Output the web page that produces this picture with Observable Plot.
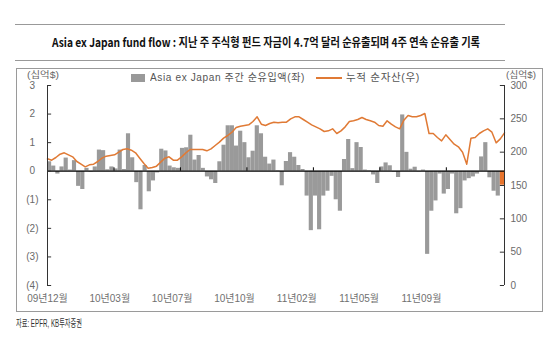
<!DOCTYPE html>
<html><head><meta charset="utf-8">
<script src="https://cdn.jsdelivr.net/npm/d3@7"></script>
<script src="https://cdn.jsdelivr.net/npm/@observablehq/plot@0.6"></script>
<style>
body{margin:0;background:#fff;}
#wrap{position:relative;width:550px;height:342px;overflow:hidden;font-family:"Liberation Sans","Noto Sans CJK KR",sans-serif;}
.abs{position:absolute;white-space:nowrap;line-height:14px;}
#chart{position:absolute;left:0;top:0;}
#box{position:absolute;left:16px;top:68px;width:527px;height:244px;border:1.5px solid #9a9a9a;box-sizing:border-box;}
</style></head><body>
<div id="wrap">
  <div class="abs" style="left:15px;top:24px;width:490px;border-top:1.5px solid #999;"></div>
  <div class="abs" style="left:15px;top:60px;width:490px;border-top:1.5px solid #999;"></div>
  <div id="box"></div>
  <div id="title" class="abs fit" data-w="428" style="left:52px;top:35px;font-family:'Noto Sans CJK KR',sans-serif;font-weight:700;font-size:12px;color:#111;">Asia ex Japan fund flow : 지난 주 주식형 펀드 자금이 4.7억 달러 순유출되며 4주 연속 순유출 기록</div>
  <div id="chart"></div>
  <div class="abs" style="left:131px;top:74px;width:14px;height:8px;background:#999;"></div>
  <div class="abs fit" data-w="155" style="left:150px;top:71px;font-size:10px;color:#555;letter-spacing:0.6px;">Asia ex Japan 주간 순유입액(좌)</div>
  <div class="abs" style="left:316px;top:77px;width:26px;height:2px;background:#E07A35;"></div>
  <div class="abs fit" data-w="74" style="left:346px;top:71px;font-size:10px;color:#555;letter-spacing:0.6px;">누적 순자산(우)</div>
  <div class="abs fit" data-w="32" style="left:27px;top:68px;font-size:9px;color:#666;">(십억$)</div>
  <div class="abs fit" data-w="30" style="left:506px;top:68px;font-size:9px;color:#666;">(십억$)</div>
  <div class="abs fit" data-w="66" style="left:16px;top:316px;font-size:10.5px;color:#333;">자료: EPFR, KB투자증권</div>
</div>
<script>
// weekly net flow (USD bn, left axis)
const flows = [
  0.33, 0.18, -0.1, 0.15, 0.46, 0.04, 0.37, -0.53, -0.64, 0.1,
  -0.03, 0.15, 0.74, 0.72, 0.05, 0.15, 0.08, 0.74, 0.06, 1.31,
  0.47, -0.4, -1.35, 0.2, -0.72, -0.34, -0.06, 0.77, 0.71, 0.18,
  0.12, 0.1, 0.8, 0.82, 1.26, 0.39, 0.55, 0.1, -0.2, -0.3,
  -0.43, 0.33, 0.91, 1.59, 1.59, 0.88, 1.4, 1.0, 0.47, 0.7,
  1.59, 1.31, 0.49, 0.25, 0.39, 0.02, -0.51, 0.34, 0.65, 0.49,
  0.2, 0.06, -0.87, -2.08, -0.87, -2.05, -0.87, -0.7, -0.18, -1.0,
  -1.4, 0.41, 1.11, 0.09, 1.0, 0.83, 0.04, 0.02, -0.13, -0.43,
  0.15, 0.29, 0.19, -0.03, -0.22, 1.97, 0.66, 0.07, 0.14, -0.02,
  0.04, -2.91, -1.4, -1.04, -0.1, -0.8, -0.64, -0.1, -1.49, -1.31,
  -0.34, -0.26, -0.2, -0.1, 0.5, 1.0, -0.23, -0.7, -0.87, -0.49
];
// cumulative net assets (USD bn, right axis)
const assets = [
  190, 188, 192, 197, 199, 196, 193, 186, 182, 178,
  181, 182, 186, 191, 194, 195, 196, 200, 204, 205,
  203, 199, 191, 183, 176, 177, 179, 185, 191, 193,
  188, 188, 193, 199, 204, 204, 204, 204, 202, 205,
  210, 215, 221, 225, 230, 237, 239, 240, 241, 246,
  253, 242, 240, 243, 245, 244, 245, 245, 250, 253,
  253, 249, 245, 241, 238, 235, 231, 232, 235, 228,
  232, 238, 246, 247, 249, 252, 249, 247, 245, 240,
  239, 247, 242, 238, 235, 248, 255, 253, 253, 255,
  258, 228, 228, 222, 217, 226, 219, 212, 208, 200,
  182, 221, 222, 228, 232, 235, 230, 214, 220, 229
];
const xTickIndex = [0, 15, 30, 45, 60, 75, 90];
const xTickLabels = ["09년12월", "10년03월", "10년07월", "10년10월", "11년02월", "11년05월", "11년09월"];
const zeroTickIndex = [16, 32, 48, 64, 80, 96];
const leftTicks = [3, 2, 1, 0, -1, -2, -3, -4];
const rightTicks = [0, 50, 100, 150, 200, 250, 300];

const N = flows.length;
const gray = "#9a9a9a", orange = "#E07A35", lastOrange = "#E8742C";
const toLeft = r => -4 + r / 300 * 7;

const bars = flows.map((v, i) => ({i, v, last: i === N - 1}));
const line = assets.map((r, i) => ({x: i * N / (N - 1), y: toLeft(r)}));
const xLabels = xTickIndex.map((d, k) => ({x: d, label: xTickLabels[k]}));

const chart = Plot.plot({
  width: 550, height: 342,
  marginLeft: 47, marginRight: 46, marginTop: 85, marginBottom: 57,
  x: {domain: [0, N], axis: null},
  y: {domain: [-4, 3], axis: null},
  style: {background: "transparent", fontFamily: "'Liberation Sans','Noto Sans CJK KR',sans-serif", fontSize: "10px", color: "#666", overflow: "visible"},
  marks: [
    Plot.rect(bars, {x1: "i", x2: d => d.i + 1, y1: 0, y2: "v", fill: d => d.last ? lastOrange : gray}),
    Plot.ruleY([0], {stroke: "#000", strokeWidth: 1.2}),
    Plot.ruleX(zeroTickIndex, {x: d => d, y1: 0, y2: 0.12, stroke: "#000"}),
    Plot.line(line, {x: "x", y: "y", stroke: orange, strokeWidth: 1.5}),
    Plot.ruleX([0, N], {y1: -4, y2: 3, stroke: "#333"}),
    Plot.ruleY(leftTicks, {y: d => d, x1: 0, x2: 1, stroke: "#333"}),
    Plot.ruleY(rightTicks, {y: d => toLeft(d), x1: N - 1, x2: N, stroke: "#333"}),
    Plot.text(leftTicks.filter(d => d >= 0), {x: 0, y: d => d, text: d => String(d), textAnchor: "end", dx: -12.5, fill: "#6a6a6a"}),
    Plot.text(leftTicks.filter(d => d < 0), {x: 0, y: d => d, text: d => `(${-d})`, textAnchor: "end", dx: -9, fill: "#6a6a6a"}),
    Plot.text(rightTicks, {x: N, y: d => toLeft(d), text: d => String(d), textAnchor: "start", dx: 6, fill: "#6a6a6a"}),
    Plot.text(xLabels, {x: "x", y: -4, text: "label", dy: 13, fill: "#707070", fontFamily: "'Liberation Sans','Noto Sans CJK KR',sans-serif"})
  ]
});
document.getElementById("chart").appendChild(chart);

document.querySelectorAll(".fit").forEach(el => {
  const target = +el.dataset.w;
  const w = el.getBoundingClientRect().width;
  if (w > 0) {
    el.style.transformOrigin = "left center";
    el.style.transform = `scaleX(${target / w})`;
  }
});
</script>
</body></html>
